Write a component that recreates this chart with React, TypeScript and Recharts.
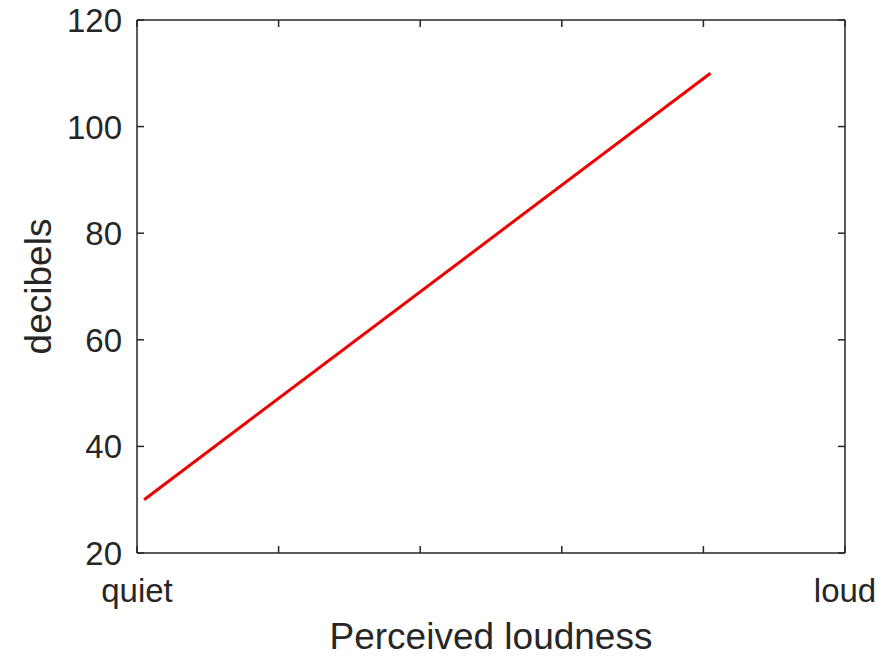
import React from "react";
import { LineChart, Line, XAxis, YAxis } from "recharts";

// perceived loudness (0 = quiet, 1 = loud) vs decibels
const loudness = [0.01, 0.81];
const decibels = [30, 110];

const xTicks = [0, 0.2, 0.4, 0.6, 0.8, 1];
const xTickLabels = ["quiet", "", "", "", "", "loud"];
const yTicks = [20, 40, 60, 80, 100, 120];

const data = loudness.map((x, i) => ({ x, db: decibels[i] }));

const INK = "#262626";
const FONT = "'Liberation Sans', Arial, sans-serif";
const TICK_LEN = 7;

const BottomTick = (props: any) => {
  const { x, y, index } = props;
  return (
    <g>
      <line x1={x} y1={y} x2={x} y2={y - TICK_LEN} stroke={INK} strokeWidth={1.5} />
      <text x={x} y={y + 49} textAnchor="middle" fill={INK} fontSize={33} fontFamily={FONT}>
        {xTickLabels[index] ?? ""}
      </text>
    </g>
  );
};

const TopTick = (props: any) => {
  const { x, y } = props;
  return <line x1={x} y1={y} x2={x} y2={y + TICK_LEN} stroke={INK} strokeWidth={1.5} />;
};

const LeftTick = (props: any) => {
  const { x, y, payload } = props;
  return (
    <g>
      <line x1={x} y1={y} x2={x + TICK_LEN} y2={y} stroke={INK} strokeWidth={1.5} />
      <text x={x - 15} y={y + 12} textAnchor="end" fill={INK} fontSize={33} fontFamily={FONT}>
        {payload.value}
      </text>
    </g>
  );
};

const RightTick = (props: any) => {
  const { x, y } = props;
  return <line x1={x} y1={y} x2={x - TICK_LEN} y2={y} stroke={INK} strokeWidth={1.5} />;
};

export default function App() {
  return (
    <div style={{ position: "absolute", left: 0, top: 0, background: "#fff" }}>
      <LineChart
        width={896}
        height={657}
        data={data}
        margin={{ top: 19, right: 50, bottom: 0, left: 0 }}
      >
        <XAxis
          xAxisId="b"
          dataKey="x"
          type="number"
          domain={[0, 1]}
          ticks={xTicks}
          interval={0}
          height={104}
          tickSize={0}
          tickMargin={0}
          tickLine={false}
          axisLine={{ stroke: INK, strokeWidth: 1.5 }}
          tick={<BottomTick />}
          label={{
            content: (p: any) => {
              const vb = p.viewBox;
              return (
                <text
                  x={vb.x + vb.width / 2}
                  y={vb.y + 96}
                  textAnchor="middle"
                  fill={INK}
                  fontSize={37}
                  fontFamily={FONT}
                >
                  Perceived loudness
                </text>
              );
            },
          }}
        />
        <XAxis
          xAxisId="t"
          dataKey="x"
          orientation="top"
          type="number"
          domain={[0, 1]}
          ticks={xTicks}
          interval={0}
          height={1}
          tickSize={0}
          tickMargin={0}
          tickLine={false}
          axisLine={{ stroke: INK, strokeWidth: 1.5 }}
          tick={<TopTick />}
        />
        <YAxis
          yAxisId="l"
          type="number"
          domain={[20, 120]}
          ticks={yTicks}
          interval={0}
          width={137}
          tickSize={0}
          tickMargin={0}
          tickLine={false}
          axisLine={{ stroke: INK, strokeWidth: 1.5 }}
          tick={<LeftTick />}
          label={{
            content: (p: any) => {
              const vb = p.viewBox;
              const cx = vb.x + 38;
              const cy = vb.y + vb.height / 2;
              return (
                <text
                  x={cx}
                  y={cy}
                  transform={`rotate(-90 ${cx} ${cy})`}
                  textAnchor="middle"
                  dominantBaseline="central"
                  fill={INK}
                  fontSize={37}
                  fontFamily={FONT}
                >
                  decibels
                </text>
              );
            },
          }}
        />
        <YAxis
          yAxisId="r"
          orientation="right"
          type="number"
          domain={[20, 120]}
          ticks={yTicks}
          interval={0}
          width={1}
          tickSize={0}
          tickMargin={0}
          tickLine={false}
          axisLine={{ stroke: INK, strokeWidth: 1.5 }}
          tick={<RightTick />}
        />
        {/* invisible series so the box axes (top/right) get a scale */}
        <Line
          xAxisId="t"
          yAxisId="r"
          type="linear"
          dataKey="db"
          stroke="none"
          dot={false}
          activeDot={false}
          legendType="none"
          isAnimationActive={false}
        />
        <Line
          xAxisId="b"
          yAxisId="l"
          type="linear"
          dataKey="db"
          stroke="#ee0000"
          strokeWidth={3}
          dot={false}
          isAnimationActive={false}
        />
      </LineChart>
    </div>
  );
}
